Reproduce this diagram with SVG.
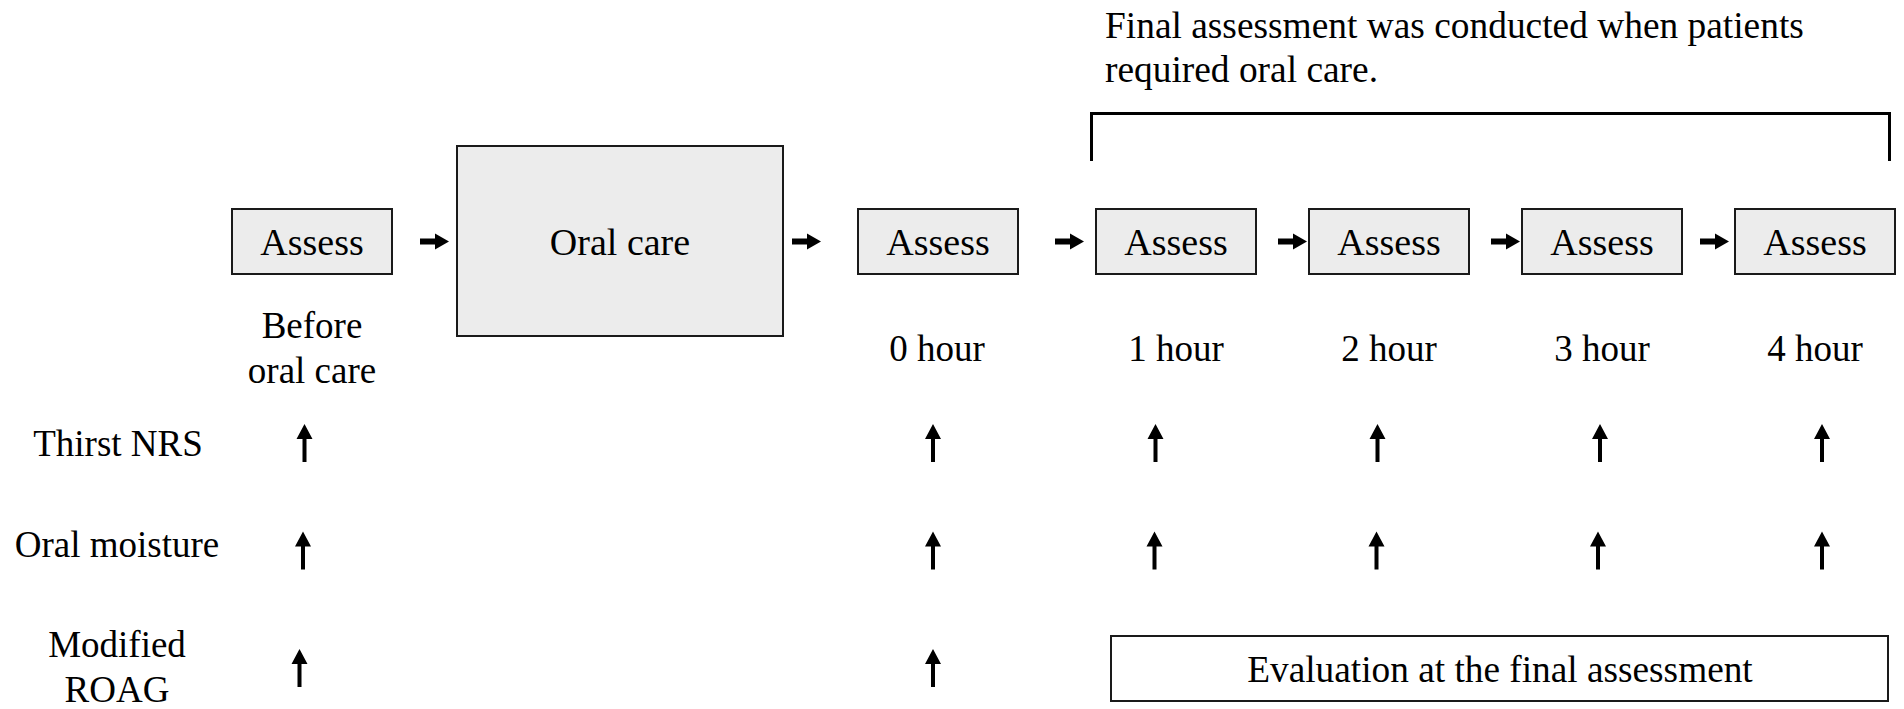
<svg xmlns="http://www.w3.org/2000/svg" xmlns:xlink="http://www.w3.org/1999/xlink" width="1904" height="709" viewBox="0 0 1904 709">
<style>
.t{font-family:"Liberation Serif","Times New Roman",serif;font-size:37px;fill:#000;}
.c{text-anchor:middle;}
.box{fill:#ececec;stroke:#1a1a1a;stroke-width:2;}
.ebox{fill:#fff;stroke:#1a1a1a;stroke-width:2;}
.br{fill:none;stroke:#000;stroke-width:3;}
</style>
<defs>
<path id="ra" d="M0,-3 H15 V-8 L29,0 L15,8 V3 H0 Z" fill="#000"/>
<path id="ua" d="M-2,0 V-23 H-8 L0,-38 L8,-23 H2 V0 Z" fill="#000"/>
</defs>
<rect width="1904" height="709" fill="#fff"/>

<g id="note">
<text class="t" x="1105" y="38" style="font-size:37.4px">Final assessment was conducted when patients</text>
<text class="t" x="1105" y="82" style="font-size:37.4px">required oral care.</text>
<path class="br" d="M1091.5,161 V113.5 H1889.5 V161"/>
</g>

<g id="assess0">
<rect class="box" x="232" y="209" width="160" height="65"/>
<text class="t c" x="312" y="255" style="font-size:38px">Assess</text>
<text class="t c" x="312" y="338">Before</text>
<text class="t c" x="312" y="383">oral care</text>
</g>
<g id="oralcare">
<rect class="box" x="457" y="146" width="326" height="190"/>
<text class="t c" x="620" y="255" style="font-size:38px">Oral care</text>
</g>
<g id="assess_h0">
<rect class="box" x="858" y="209" width="160" height="65"/>
<text class="t c" x="938" y="255" style="font-size:38px">Assess</text>
<text class="t c" x="937" y="361">0 hour</text>
</g>
<g id="assess_h1">
<rect class="box" x="1096" y="209" width="160" height="65"/>
<text class="t c" x="1176" y="255" style="font-size:38px">Assess</text>
<text class="t c" x="1176" y="361">1 hour</text>
</g>
<g id="assess_h2">
<rect class="box" x="1309" y="209" width="160" height="65"/>
<text class="t c" x="1389" y="255" style="font-size:38px">Assess</text>
<text class="t c" x="1389" y="361">2 hour</text>
</g>
<g id="assess_h3">
<rect class="box" x="1522" y="209" width="160" height="65"/>
<text class="t c" x="1602" y="255" style="font-size:38px">Assess</text>
<text class="t c" x="1602" y="361">3 hour</text>
</g>
<g id="assess_h4">
<rect class="box" x="1735" y="209" width="160" height="65"/>
<text class="t c" x="1815" y="255" style="font-size:38px">Assess</text>
<text class="t c" x="1815" y="361">4 hour</text>
</g>

<g id="row_labels">
<text class="t c" x="118" y="456">Thirst NRS</text>
<text class="t c" x="117" y="557">Oral moisture</text>
<text class="t c" x="117" y="657">Modified</text>
<text class="t c" x="117" y="702">ROAG</text>
</g>

<g id="final_eval">
<rect class="ebox" x="1111" y="636" width="777" height="65"/>
<text class="t c" x="1500" y="682" style="font-size:37.3px">Evaluation at the final assessment</text>
</g>

<g id="connectors">
<use xlink:href="#ra" x="420" y="241.5"/>
<use xlink:href="#ra" x="792" y="241.5"/>
<use xlink:href="#ra" x="1055" y="241.5"/>
<use xlink:href="#ra" x="1278" y="241.5"/>
<use xlink:href="#ra" x="1491" y="241.5"/>
<use xlink:href="#ra" x="1700" y="241.5"/>

<use xlink:href="#ua" x="304.5" y="462"/>
<use xlink:href="#ua" x="933" y="462"/>
<use xlink:href="#ua" x="1155.5" y="462"/>
<use xlink:href="#ua" x="1377.5" y="462"/>
<use xlink:href="#ua" x="1600" y="462"/>
<use xlink:href="#ua" x="1822" y="462"/>

<use xlink:href="#ua" x="303" y="569.5"/>
<use xlink:href="#ua" x="933" y="569.5"/>
<use xlink:href="#ua" x="1154.5" y="569.5"/>
<use xlink:href="#ua" x="1376.5" y="569.5"/>
<use xlink:href="#ua" x="1598" y="569.5"/>
<use xlink:href="#ua" x="1822" y="569.5"/>

<use xlink:href="#ua" x="299.5" y="687"/>
<use xlink:href="#ua" x="933" y="687"/>
</g>
</svg>
